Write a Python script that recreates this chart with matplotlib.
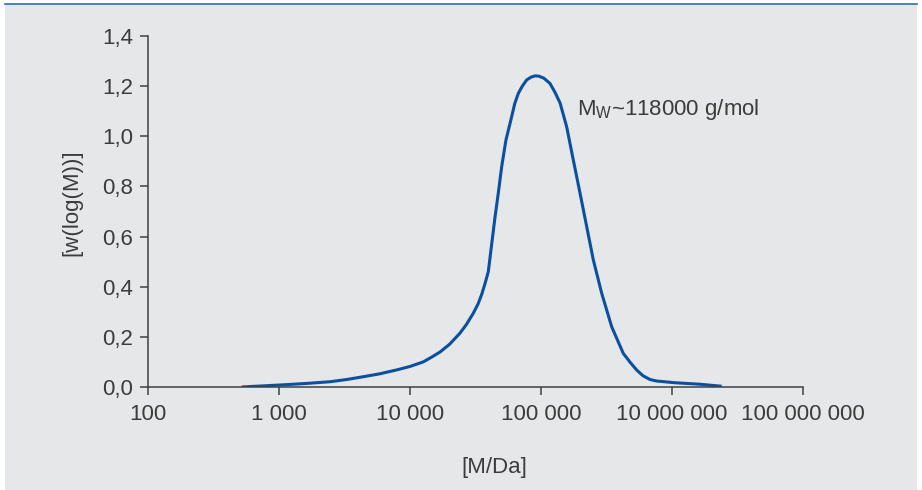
import matplotlib
matplotlib.use("Agg")
import matplotlib.pyplot as plt
from matplotlib.patches import Rectangle
from matplotlib.lines import Line2D

plt.rcParams['font.family'] = ['Liberation Sans', 'DejaVu Sans']
plt.rcParams['mathtext.fontset'] = 'custom'
plt.rcParams['mathtext.rm'] = 'Liberation Sans'

# molar mass [Da] and distribution w(log M)
mass = [519, 1020, 1600, 2450, 3300, 4400, 5800, 7900, 10000, 12600,
        14500, 17000, 20000, 24000, 27000, 30400, 33000, 35300, 37500, 39600,
        40800, 42100, 44600, 47200, 50100, 54000, 59700, 63000, 67100, 72000,
        77800, 84000, 90000, 96000, 105000, 117000, 128000, 140000, 157000,
        176500, 198600, 223400, 250800, 290600, 346500, 424800, 480000,
        537000, 600000, 679000, 760000, 1054000, 1636000, 2393000]
wlog = [0.0, 0.008, 0.014, 0.021, 0.03, 0.041, 0.052, 0.068, 0.082, 0.10,
        0.118, 0.14, 0.17, 0.214, 0.25, 0.294, 0.33, 0.37, 0.415, 0.46,
        0.515, 0.573, 0.679, 0.773, 0.879, 0.985, 1.078, 1.13, 1.171, 1.20,
        1.225, 1.236, 1.241, 1.24, 1.232, 1.211, 1.175, 1.132, 1.038,
        0.905, 0.773, 0.639, 0.507, 0.374, 0.24, 0.134, 0.098,
        0.068, 0.045, 0.03, 0.024, 0.017, 0.011, 0.003]

xticks = [1e2, 1e3, 1e4, 1e5, 1e6, 1e7]
xticklabels = ['100', '1 000', '10 000', '100 000', '10 000 000', '100 000 000']
yticks = [0.0, 0.2, 0.4, 0.6, 0.8, 1.0, 1.2, 1.4]
yticklabels = ['0,0', '0,2', '0,4', '0,6', '0,8', '1,0', '1,2', '1,4']

txt = '#3c3c3c'
fig = plt.figure(figsize=(9.22, 4.90), dpi=100)
fig.patch.set_facecolor('white')
fig.patches.append(Rectangle((5 / 922, 0), 912 / 922, 485 / 490,
                             transform=fig.transFigure, facecolor='#e6e7e8',
                             edgecolor='none', zorder=-10))
fig.lines.append(Line2D([5 / 922, 917 / 922], [486 / 490, 486 / 490],
                        transform=fig.transFigure, color='#2a6db5', lw=1.2,
                        zorder=-5))

ax = fig.add_axes([148 / 922, 1 - 387 / 490, 655 / 922, 351 / 490])
ax.set_facecolor('none')
ax.plot(mass, wlog, color='#0b50a0', lw=2.2, solid_capstyle='butt',
        solid_joinstyle='round')
ax.set_xscale('log')
ax.set_xlim(1e2, 1e7)
ax.set_ylim(0, 1.4)
ax.set_xticks(xticks)
ax.set_xticklabels(xticklabels)
ax.minorticks_off()
ax.set_yticks(yticks)
ax.set_yticklabels(yticklabels)

for s in ['top', 'right']:
    ax.spines[s].set_visible(False)
for s in ['left', 'bottom']:
    ax.spines[s].set_color('#404040')
    ax.spines[s].set_linewidth(1.1)
ax.tick_params(direction='out', length=5.5, width=1.1, color='#404040',
               labelsize=16, labelcolor=txt, pad=5)
ax.tick_params(axis='x', pad=7)

ax.set_xlabel('[M/Da]', fontsize=16, color=txt)
ax.xaxis.set_label_coords(0.528, -0.20)
ax.set_ylabel('[w(log(M))]', fontsize=16, color=txt)
ax.yaxis.set_label_coords(-0.10, 0.524)

ax.text(188000, 1.085, r'M$_{\mathrm{W}}$~118000 g/mol', fontsize=16,
        color=txt, ha='left', va='baseline')

fig.savefig('out.png', dpi=100)
